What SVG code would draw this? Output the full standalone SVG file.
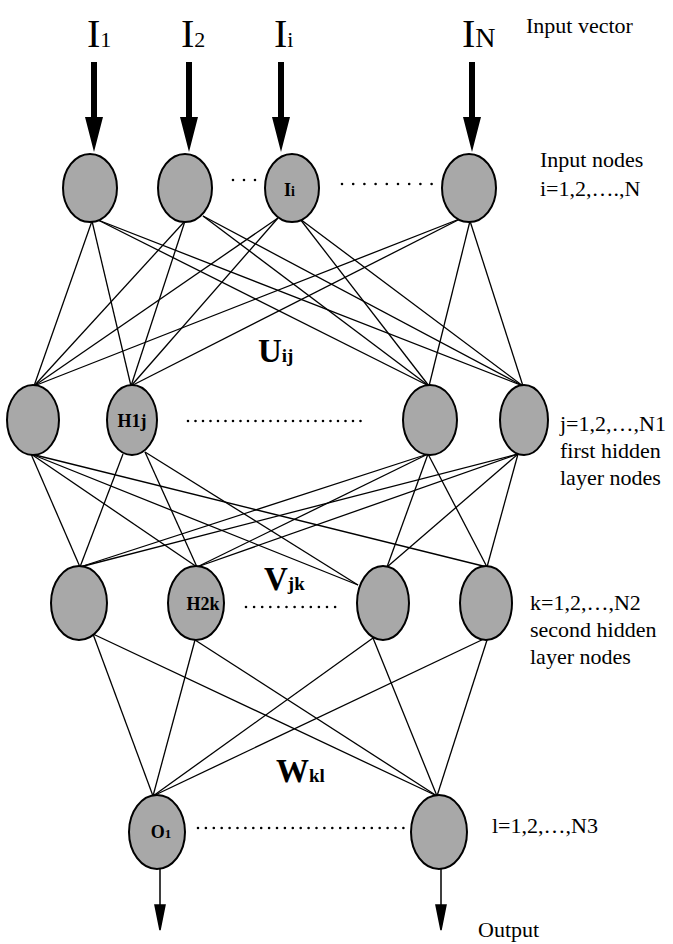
<svg xmlns="http://www.w3.org/2000/svg" xmlns:xlink="http://www.w3.org/1999/xlink" width="673" height="944" viewBox="0 0 673 944">
<style>
.txt{font-family:"Liberation Serif","Times New Roman",serif;fill:#000}
.lbl{font-size:22px}
.big{font-size:40px}
.sub{font-size:22px}
.w{font-family:"Liberation Serif","Times New Roman",serif;font-weight:bold;fill:#000;font-size:33px}
.wsub{font-size:19px}
.nl{font-family:"Liberation Serif","Times New Roman",serif;font-weight:bold;fill:#000;font-size:18px}
.node{fill:#a8a8a8;stroke:#000;stroke-width:2}
.edge{stroke:#000;stroke-width:1.3;fill:none}
.dots{stroke:#000;stroke-width:2.6;stroke-linecap:round;fill:none}
</style>
<defs>
<path id="bigArrow" d="M-3,0 H3 V55 H9 L0,90 L-9,55 H-3 Z" fill="#000"/>
<path id="smallArrow" d="M0,0 V40 M-5,36 L0,61 L5,36 Z" fill="#000" stroke="#000" stroke-width="1.5"/>
</defs>

<g id="connectors">
<g id="U">
<line class="edge" x1="92" y1="221" x2="34" y2="386"/>
<line class="edge" x1="92" y1="221" x2="131" y2="386"/>
<line class="edge" x1="98" y1="220" x2="429" y2="386"/>
<line class="edge" x1="98" y1="220" x2="523" y2="386"/>
<line class="edge" x1="185" y1="221" x2="34" y2="386"/>
<line class="edge" x1="185" y1="221" x2="131" y2="386"/>
<line class="edge" x1="203" y1="216" x2="429" y2="386"/>
<line class="edge" x1="203" y1="216" x2="523" y2="386"/>
<line class="edge" x1="278" y1="218" x2="34" y2="386"/>
<line class="edge" x1="278" y1="218" x2="131" y2="386"/>
<line class="edge" x1="300" y1="219" x2="429" y2="386"/>
<line class="edge" x1="300" y1="219" x2="523" y2="386"/>
<line class="edge" x1="462" y1="218" x2="34" y2="386"/>
<line class="edge" x1="462" y1="218" x2="131" y2="386"/>
<line class="edge" x1="470" y1="221" x2="429" y2="386"/>
<line class="edge" x1="470" y1="221" x2="523" y2="386"/>
</g>
<g id="V">
<line class="edge" x1="31" y1="454" x2="80" y2="567"/>
<line class="edge" x1="31" y1="454" x2="197" y2="567"/>
<line class="edge" x1="31" y1="454" x2="358" y2="585"/>
<line class="edge" x1="31" y1="454" x2="487" y2="567"/>
<line class="edge" x1="123" y1="454" x2="80" y2="567"/>
<line class="edge" x1="145" y1="452" x2="197" y2="567"/>
<line class="edge" x1="145" y1="452" x2="358" y2="585"/>
<line class="edge" x1="428" y1="454" x2="80" y2="567"/>
<line class="edge" x1="428" y1="454" x2="197" y2="567"/>
<line class="edge" x1="428" y1="454" x2="387" y2="567"/>
<line class="edge" x1="428" y1="454" x2="487" y2="567"/>
<line class="edge" x1="518" y1="454" x2="80" y2="567"/>
<line class="edge" x1="518" y1="454" x2="197" y2="567"/>
<line class="edge" x1="518" y1="454" x2="387" y2="567"/>
<line class="edge" x1="518" y1="454" x2="487" y2="567"/>
</g>
<g id="W">
<line class="edge" x1="93" y1="634" x2="153" y2="796"/>
<line class="edge" x1="93" y1="634" x2="437" y2="796"/>
<line class="edge" x1="195" y1="640" x2="153" y2="796"/>
<line class="edge" x1="195" y1="640" x2="437" y2="796"/>
<line class="edge" x1="373" y1="638" x2="153" y2="796"/>
<line class="edge" x1="373" y1="638" x2="437" y2="796"/>
<line class="edge" x1="488" y1="637" x2="153" y2="796"/>
<line class="edge" x1="488" y1="637" x2="437" y2="796"/>
</g>
<g id="input-arrows">
<use xlink:href="#bigArrow" x="94" y="62"/>
<use xlink:href="#bigArrow" x="189" y="62"/>
<use xlink:href="#bigArrow" x="281" y="62"/>
<use xlink:href="#bigArrow" x="472" y="62"/>
</g>
<g id="output-arrows">
<use xlink:href="#smallArrow" x="160" y="869"/>
<use xlink:href="#smallArrow" x="441" y="869"/>
</g>
</g>

<g id="labels-top">
<text class="txt big" x="87" y="47">I<tspan class="sub">1</tspan></text>
<text class="txt big" x="181" y="47">I<tspan class="sub">2</tspan></text>
<text class="txt big" x="274" y="47">I<tspan class="sub">i</tspan></text>
<text class="txt big" x="462" y="47">I<tspan font-size="28">N</tspan></text>
<text class="txt lbl" x="526" y="33">Input vector</text>
</g>

<g id="in1"><ellipse class="node" cx="90" cy="188" rx="27" ry="34"/></g>
<g id="in2"><ellipse class="node" cx="185" cy="188" rx="27" ry="34"/></g>
<g id="in3"><ellipse class="node" cx="292" cy="188" rx="27" ry="34"/><text class="nl" x="284" y="196" font-size="22">I<tspan font-size="14">i</tspan></text></g>
<g id="in4"><ellipse class="node" cx="469" cy="188" rx="27" ry="34"/></g>
<path class="dots" d="M233,180 H256" stroke-dasharray="0 11"/>
<path class="dots" d="M342,184 H432" stroke-dasharray="0 11.2"/>
<text class="txt lbl" x="540" y="167">Input nodes</text>
<text class="txt lbl" x="540" y="196">i=1,2,….,N</text>

<g id="h1-1"><ellipse class="node" cx="33" cy="420" rx="26" ry="35"/></g>
<g id="h1-2"><ellipse class="node" cx="132" cy="420" rx="25" ry="35"/><text class="nl" x="132" y="427" text-anchor="middle">H1j</text></g>
<g id="h1-3"><ellipse class="node" cx="430" cy="420" rx="27" ry="35"/></g>
<g id="h1-4"><ellipse class="node" cx="524" cy="420" rx="24" ry="35"/></g>
<path class="dots" d="M188,421 H368" stroke-dasharray="0 7.5"/>
<text class="w" x="258" y="362">U<tspan class="wsub">ij</tspan></text>
<text class="txt lbl" x="560" y="431">j=1,2,…,N1</text>
<text class="txt lbl" x="560" y="458">first hidden</text>
<text class="txt lbl" x="560" y="485">layer nodes</text>

<g id="h2-1"><ellipse class="node" cx="79" cy="603" rx="28" ry="37"/></g>
<g id="h2-2"><ellipse class="node" cx="196" cy="603" rx="28" ry="37"/><text class="nl" x="203" y="610" text-anchor="middle">H2k</text></g>
<g id="h2-3"><ellipse class="node" cx="383" cy="603" rx="26" ry="37"/></g>
<g id="h2-4"><ellipse class="node" cx="486" cy="603" rx="26" ry="37"/></g>
<path class="dots" d="M246,607 H343" stroke-dasharray="0 8.1"/>
<text class="w" x="264" y="590">V<tspan class="wsub">jk</tspan></text>
<text class="txt lbl" x="530" y="610">k=1,2,…,N2</text>
<text class="txt lbl" x="530" y="637">second hidden</text>
<text class="txt lbl" x="530" y="664">layer nodes</text>

<g id="o1"><ellipse class="node" cx="157" cy="832" rx="28" ry="37"/><text class="nl" x="161" y="838" text-anchor="middle" font-size="19">O<tspan font-size="13">1</tspan></text></g>
<g id="o2"><ellipse class="node" cx="439" cy="832" rx="28" ry="37"/></g>
<path class="dots" d="M198,828 H410" stroke-dasharray="0 7.9"/>
<text class="w" x="276" y="782">W<tspan class="wsub">kl</tspan></text>
<text class="txt lbl" x="492" y="833">l=1,2,…,N3</text>
<text class="txt lbl" x="478" y="937">Output</text>
</svg>
